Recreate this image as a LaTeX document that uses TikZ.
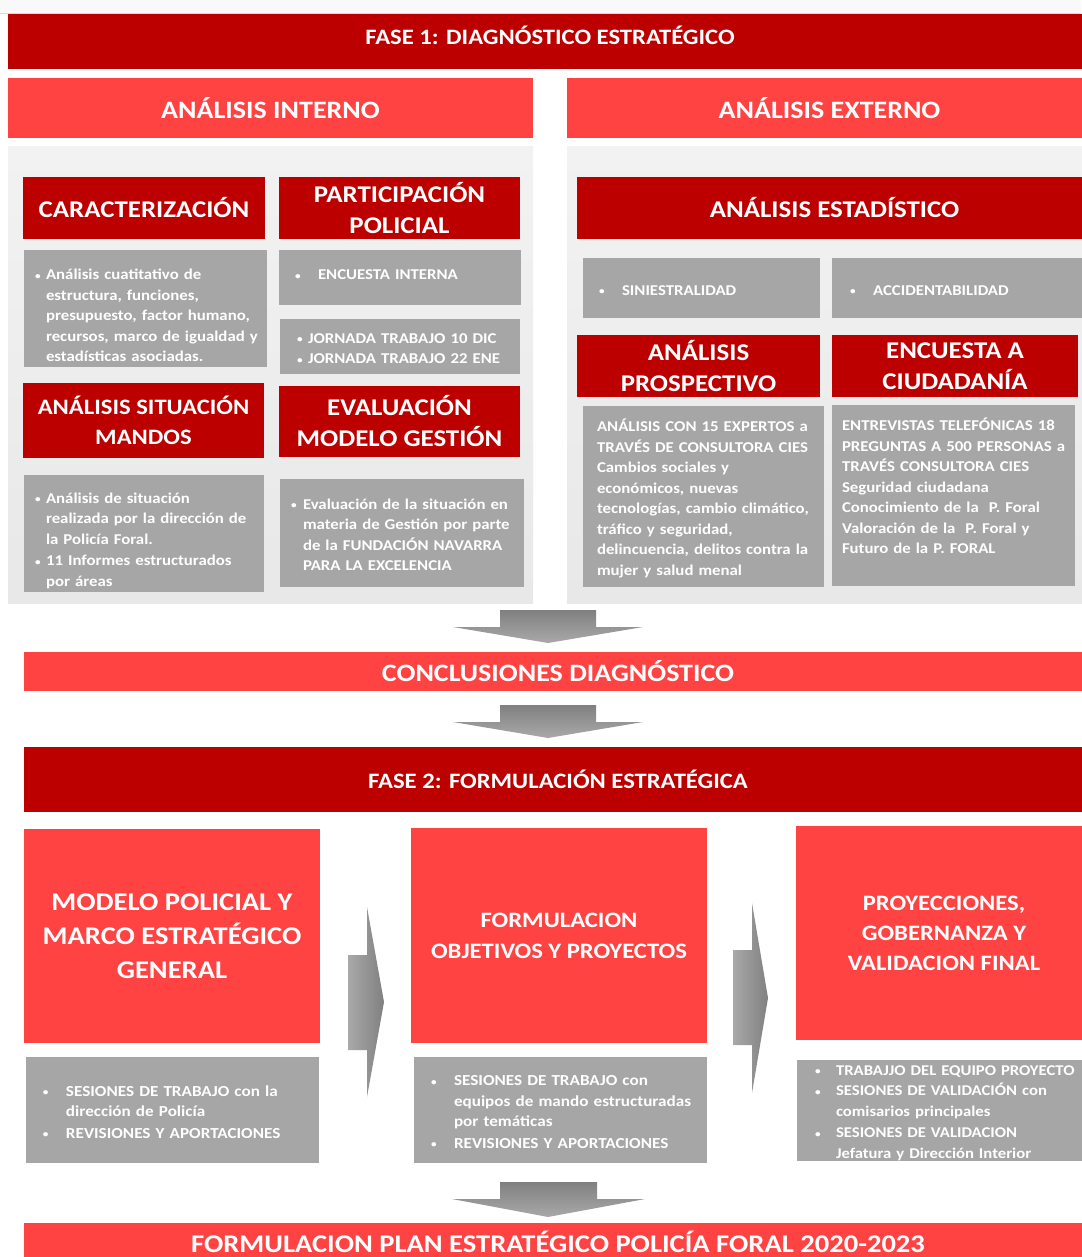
\documentclass[tikz,border=0pt]{standalone}
\usepackage{fontspec}
\setmainfont{Carlito}[FakeStretch=1.12]
\usepackage{xcolor}
\usepackage{tikz}
\usetikzlibrary{positioning}

\definecolor{darkred}{HTML}{BC0000}
\definecolor{lightred}{HTML}{FF4343}
\definecolor{boxgray}{HTML}{A6A6A6}
\definecolor{panelhi}{HTML}{F2F2F2}
\definecolor{panello}{HTML}{E8E8E8}
\definecolor{arrowdark}{HTML}{808080}
\definecolor{arrowlight}{HTML}{A9A9A9}

\newcommand{\bdot}{\raisebox{0.5pt}{\fontsize{10}{10}\selectfont •}}
% bullet line: bullet offset, text offset, lines
\newcommand{\bitem}[3]{\par\noindent\hspace*{#1}\makebox[\dimexpr#2-#1\relax][l]{\bdot}\begin{tabular}[t]{@{}l@{}}#3\end{tabular}}
% plain lines with left offset
\newcommand{\ptext}[2]{\par\noindent\hspace*{#1}\begin{tabular}[t]{@{}l@{}}#2\end{tabular}}

\begin{document}
\begin{tikzpicture}[
        x=1pt, y=-1pt,
        hdark/.style={fill=darkred, text=white, font=\fontsize{24}{31}\selectfont\bfseries, align=center, anchor=north west, inner sep=0pt, outer sep=0pt},
        hlight/.style={hdark, fill=lightred},
        fasebar/.style={hdark, font=\fontsize{22}{26}\selectfont\bfseries},
        panel/.style={anchor=north west, inner sep=0pt, outer sep=0pt, top color=panelhi, bottom color=panello},
        gbox/.style={fill=boxgray, text=white, font=\fontsize{15}{20.5}\selectfont\bfseries, align=left, anchor=north west, inner sep=0pt, outer sep=0pt},
        gboxsm/.style={gbox, font=\fontsize{15.3}{20.5}\selectfont\bfseries},
        downarrow/.style={top color=arrowdark, bottom color=arrowlight},
        rightarrow/.style={left color=arrowlight, right color=arrowdark}
    ]
        \useasboundingbox (0,0) rectangle (1081,1257);
        \fill[gray!5] (0,0) rectangle (1081,13);
        \draw[gray!30] (0,13) -- (1081,13);

        % Fase 1
        \node[fasebar, minimum width=1084pt, minimum height=55pt] (fase1) at (8,14) {\raisebox{6pt}[\height][\depth]{FASE 1: DIAGNÓSTICO ESTRATÉGICO}};
        \node[hlight, font=\fontsize{25}{30}\selectfont\bfseries, minimum width=525pt, minimum height=60pt] (interno) at (8,78) {ANÁLISIS INTERNO};
        \node[hlight, font=\fontsize{25}{30}\selectfont\bfseries, minimum width=525pt, minimum height=60pt] (externo) at (567,78) {ANÁLISIS EXTERNO};
        \node[panel, minimum width=525pt, minimum height=456pt] (panelint) at (8,147) {};
        \node[panel, minimum width=525pt, minimum height=456pt] (panelext) at (567,147) {};

        % Analisis interno
        \node[hdark, minimum width=242pt, minimum height=62pt] (caract) at (23,177) {CARACTERIZACIÓN};
        \node[hdark, minimum width=241pt, minimum height=62pt] (partic) at (279,177) {PARTICIPACIÓN\\POLICIAL};
        \node[gbox, text width=243pt, minimum height=117pt] (caracttxt) at (24,250) {%
            \bitem{11pt}{22pt}{Análisis cuatitativo de\\estructura, funciones,\\presupuesto, factor humano,\\recursos, marco de igualdad y\\estadísticas asociadas.}\par\vspace{-10pt}};
        \node[gbox, text width=242pt, minimum height=55pt] (encint) at (279,250) {%
            \bitem{16pt}{39pt}{ENCUESTA INTERNA}\par\vspace{10pt}};
        \node[gbox, text width=240pt, minimum height=55pt] (jornada) at (280,319) {%
            \bitem{17pt}{28pt}{JORNADA TRABAJO 10 DIC}
            \bitem{17pt}{28pt}{JORNADA TRABAJO 22 ENE}};
        \node[hdark, font=\fontsize{22}{30}\selectfont\bfseries, minimum width=241pt, minimum height=75pt] (mandos) at (23,383) {ANÁLISIS SITUACIÓN\\MANDOS};
        \node[hdark, minimum width=241pt, minimum height=71pt] (evalua) at (279,386) {EVALUACIÓN\\MODELO GESTIÓN};
        \node[gbox, text width=240pt, minimum height=117pt] (mandostxt) at (24,475) {%
            \bitem{11pt}{22pt}{Análisis de situación\\realizada por la dirección de\\la Policía Foral.}
            \bitem{11pt}{22pt}{11 Informes estructurados\\por áreas}\par\vspace{-8pt}};
        \node[gbox, text width=244pt, minimum height=108pt] (evaluatxt) at (280,479) {%
            \bitem{11pt}{23pt}{Evaluación de la situación en\\materia de Gestión por parte\\de la FUNDACIÓN NAVARRA\\PARA LA EXCELENCIA}};

        % Analisis externo
        \node[hdark, minimum width=515pt, minimum height=62pt] (estad) at (577,177) {ANÁLISIS ESTADÍSTICO};
        \node[gbox, text width=237pt, minimum height=60pt] (sini) at (583,258) {%
            \bitem{16pt}{39pt}{SINIESTRALIDAD}};
        \node[gbox, text width=260pt, minimum height=60pt] (accid) at (832,258) {%
            \bitem{18pt}{41pt}{ACCIDENTABILIDAD}};
        \node[hdark, minimum width=243pt, minimum height=62pt] (prosp) at (577,335) {ANÁLISIS\\PROSPECTIVO};
        \node[hdark, minimum width=246pt, minimum height=62pt] (ciud) at (832,335) {ENCUESTA A\\CIUDADANÍA};
        \node[gbox, text width=241pt, minimum height=181pt] (prosptxt) at (583,406) {%
            \ptext{14pt}{ANÁLISIS CON 15 EXPERTOS a\\TRAVÉS DE CONSULTORA CIES\\Cambios sociales y\\económicos, nuevas\\tecnologías, cambio climático,\\tráfico y seguridad,\\delincuencia, delitos contra la\\mujer y salud menal}};
        \node[gbox, text width=243pt, minimum height=181pt] (ciudtxt) at (832,405) {%
            \ptext{10pt}{ENTREVISTAS TELEFÓNICAS 18\\PREGUNTAS A 500 PERSONAS a\\TRAVÉS CONSULTORA CIES\\Seguridad ciudadana\\Conocimiento de la~~P. Foral\\Valoración de la~~P. Foral y\\Futuro de la P. FORAL\\\mbox{}}};

        % Conclusiones
        \node[hlight, font=\fontsize{25}{30}\selectfont\bfseries, minimum width=1068pt, minimum height=39pt] (concl) at (24,652) {CONCLUSIONES DIAGNÓSTICO};
        \node[fasebar, minimum width=1068pt, minimum height=65pt] (fase2) at (24,747) {FASE 2: FORMULACIÓN ESTRATÉGICA};

        % Fase 2
        \node[hlight, font=\fontsize{25.5}{34}\selectfont\bfseries, minimum width=296pt, minimum height=214pt] (modelo) at (24,829) {MODELO POLICIAL Y\\MARCO ESTRATÉGICO\\GENERAL};
        \node[hlight, font=\fontsize{22}{31}\selectfont\bfseries, minimum width=296pt, minimum height=215pt] (formob) at (411,828) {FORMULACION\\OBJETIVOS Y PROYECTOS};
        \node[hlight, font=\fontsize{22}{30}\selectfont\bfseries, minimum width=296pt, minimum height=214pt] (proyec) at (796,826) {PROYECCIONES,\\GOBERNANZA Y\\VALIDACION FINAL};
        \node[gboxsm, text width=293pt, minimum height=106pt] (modelotxt) at (26,1057) {%
            \bitem{17pt}{40pt}{SESIONES DE TRABAJO con la\\dirección de Policía}
            \bitem{17pt}{40pt}{REVISIONES Y APORTACIONES}};
        \node[gboxsm, text width=293pt, minimum height=106pt] (formobtxt) at (414,1057) {%
            \bitem{17pt}{40pt}{SESIONES DE TRABAJO con\\equipos de mando estructuradas\\por temáticas}
            \bitem{17pt}{40pt}{REVISIONES Y APORTACIONES}};
        \node[gboxsm, font=\fontsize{14.9}{20.5}\selectfont\bfseries, text width=293pt, minimum height=100pt] (proyectxt) at (797,1060) {%
            \vspace*{-5.5pt}\bitem{18pt}{39pt}{TRABAJJO DEL EQUIPO PROYECTO}
            \bitem{18pt}{39pt}{SESIONES DE VALIDACIÓN con\\comisarios principales}
            \bitem{18pt}{39pt}{SESIONES DE VALIDACION\\Jefatura y Dirección Interior}\par\vspace{-3.5pt}};
        \node[hlight, font=\fontsize{25.5}{30}\selectfont\bfseries, minimum width=1068pt, minimum height=38pt] (final) at (24,1223) {FORMULACION PLAN ESTRATÉGICO POLICÍA FORAL 2020-2023};

        % Arrows
        \shade[downarrow] (500,610) -- (596,610) -- (596,627) -- (643,627) -- (548,643) -- (453,627) -- (500,627) -- cycle;
        \shade[downarrow] (500,705) -- (596,705) -- (596,722) -- (643,722) -- (548,738) -- (453,722) -- (500,722) -- cycle;
        \shade[rightarrow] (348,955) -- (367,955) -- (367,907) -- (384,1002) -- (367,1097) -- (367,1050) -- (348,1050) -- cycle;
        \shade[rightarrow] (733,950) -- (752,950) -- (752,903) -- (768,998) -- (752,1093) -- (752,1045) -- (733,1045) -- cycle;
        \shade[downarrow] (500,1182) -- (597,1182) -- (597,1199) -- (645,1199) -- (548,1217) -- (452,1199) -- (500,1199) -- cycle;
    \end{tikzpicture}
\end{document}
